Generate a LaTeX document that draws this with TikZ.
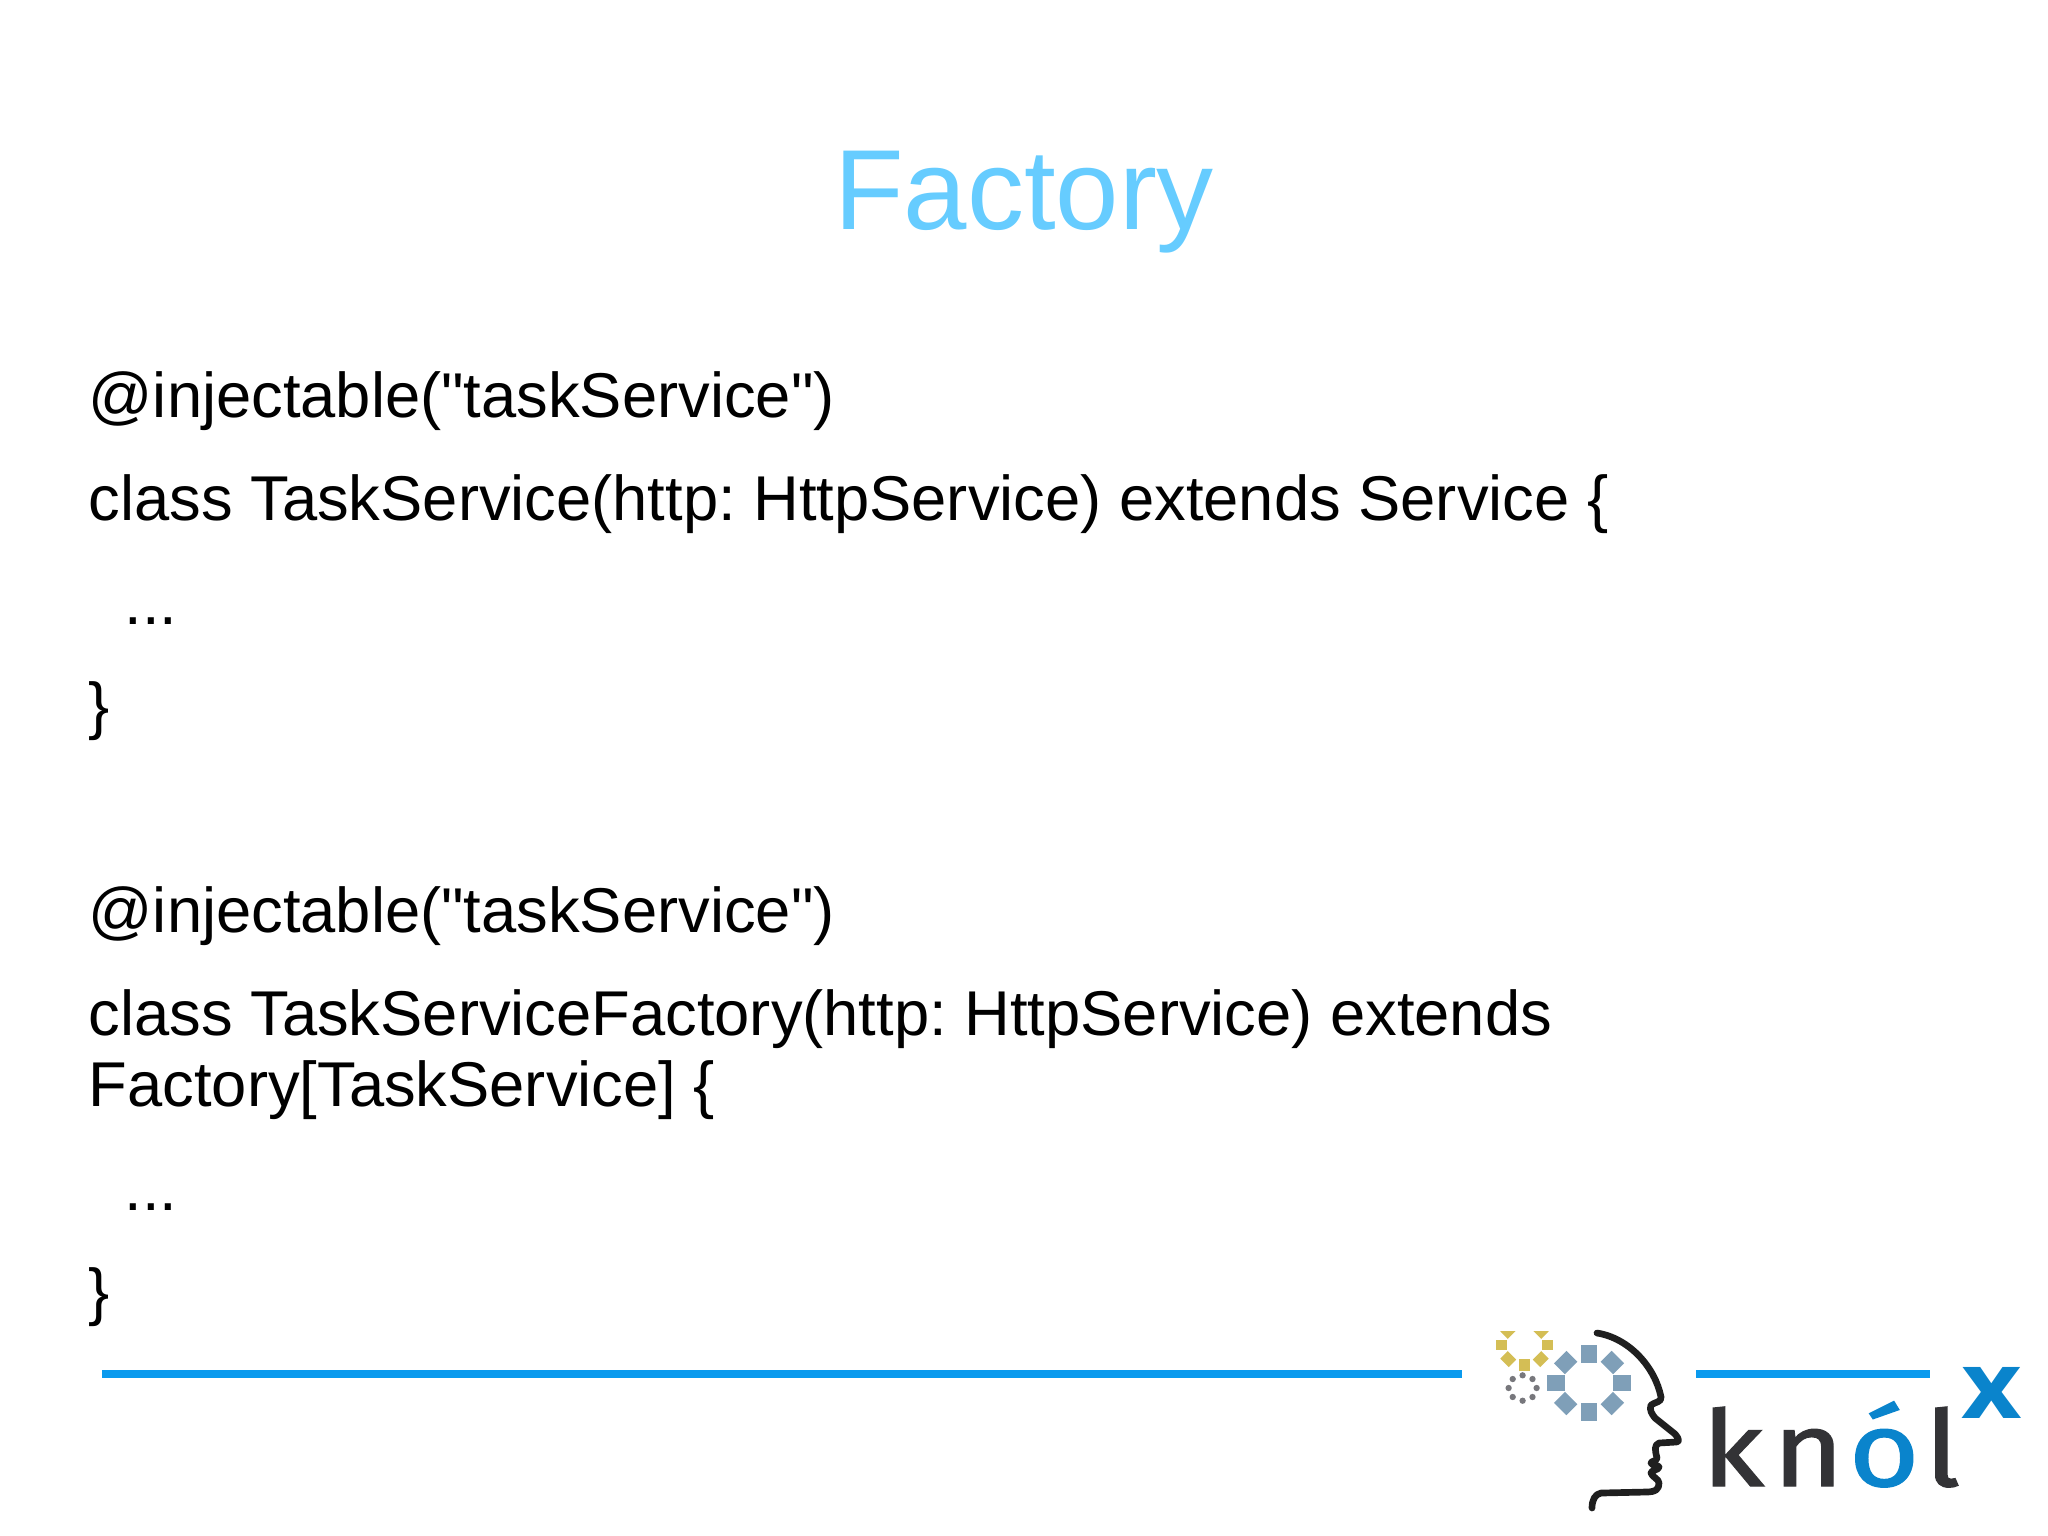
\documentclass[tikz,border=0pt]{standalone}
\usepackage{fontspec}
\setmainfont{Liberation Sans}[Ligatures=TeXOff]
\newfontfamily\logofont{Fira Sans}[RawFeature={embolden=1.2}]
\newfontfamily\logoxfont{Open Sans}
\usepackage{xcolor}
\usetikzlibrary{positioning,calc}
\definecolor{titleblue}{HTML}{66CCFF}
\definecolor{ruleblue}{HTML}{0A9AEE}
\definecolor{logoblue}{HTML}{0A84CC}
\definecolor{logodark}{HTML}{333336}
\definecolor{gearblue}{HTML}{7F9FB8}
\definecolor{gearyellow}{HTML}{D4BE55}
\definecolor{geargrey}{HTML}{77777C}
\tikzset{
    code/.style={anchor=base west,inner sep=0pt,font=\fontsize{18pt}{22pt}\selectfont\frenchspacing},
    rulebar/.style={draw=ruleblue,line width=2.1pt},
    logoletter/.style={anchor=base west,inner sep=0pt,text=logodark,transform shape,xscale=1.15,font=\logofont\fontsize{30pt}{34pt}\selectfont},
}
\begin{document}
\begin{tikzpicture}[x=0.01cm,y=-0.01cm]
    \useasboundingbox (0,0) rectangle (2048,1535);
    \node[anchor=base,inner sep=0pt,text=titleblue,font=\fontsize{32.4pt}{36pt}\selectfont](title) at (1024,229){Factory};
    \node[code](l1) at (88,417){@injectable("taskService")};
    \node[code](l2) at (88,520){class TaskService(http: HttpService) extends Service \{};
    \node[code](l3) at (124,624){...};
    \node[code](l4) at (88,727){\}};
    \node[code](l5) at (88,932){@injectable("taskService")};
    \node[code](l6) at (88,1035){class TaskServiceFactory(http: HttpService) extends};
    \node[code](l7) at (88,1106){Factory[TaskService] \{};
    \node[code](l8) at (124,1210){...};
    \node[code](l9) at (88,1313){\}};
    % rules either side of the head
    \coordinate(ruleAa) at (102,1374);
    \coordinate(ruleAb) at (1462,1374);
    \coordinate(ruleBa) at (1696,1374);
    \coordinate(ruleBb) at (1930,1374);
    \draw[rulebar](ruleAa)--(ruleAb);
    \draw[rulebar](ruleBa)--(ruleBb);
    % gears
    \foreach \a in {0,45,...,315}{
        \node[fill=gearblue,inner sep=0pt,minimum width=5pt,minimum height=4.4pt,rotate=\a] at ($(1589,1383)+(\a:33 and 29)$) {};
        \node[fill=gearyellow,inner sep=0pt,minimum width=3.4pt,minimum height=3pt,rotate=\a] at ($(1524.5,1345)+(\a:23 and 20)$) {};
        \node[fill=geargrey,circle,inner sep=0pt,minimum size=1.8pt] at ($(1522.6,1388)+(\a:14 and 12.7)$) {};
    }
    \fill[white](1490,1318) rectangle (1560,1331);
    % head
    \draw[line width=1.9pt,line cap=round,line join=round,color=black!88]
        (1597,1333) .. controls (1629,1338) and (1655,1367) .. (1661,1397)
        .. controls (1662,1402) and (1655,1402) .. (1651,1405)
        .. controls (1649,1410) and (1652,1414) .. (1655,1418)
        -- (1675,1434) .. controls (1680,1440) and (1679,1442) .. (1676,1442)
        -- (1659,1443) .. controls (1654,1445) and (1655,1450) .. (1657,1458)
        .. controls (1657,1461) and (1651,1461) .. (1651,1463)
        .. controls (1652,1466) and (1659,1465) .. (1659,1467)
        .. controls (1659,1470) and (1651,1470) .. (1651,1473)
        .. controls (1652,1477) and (1659,1479) .. (1659,1483)
        .. controls (1659,1489) and (1656,1492) .. (1646,1492)
        -- (1601,1493) .. controls (1595,1494) and (1592,1500) .. (1592,1508);
    % wordmark
    \node[logoletter](k) at (1701,1486){k};
    \node[logoletter](n) at (1772,1486){n};
    \node[logoletter,text=logoblue](o) at (1848,1486){ó};
    \node[logoletter](ll) at (1924,1486){l};
    \node[anchor=base west,inner sep=0pt,text=logoblue,transform shape,xscale=1.12,font=\logoxfont\bfseries\fontsize{26.6pt}{30pt}\selectfont](x) at (1961,1418){x};
\end{tikzpicture}
\end{document}
